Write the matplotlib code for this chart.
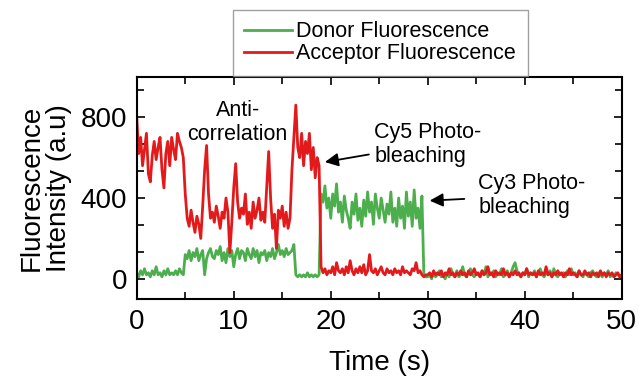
import numpy as np
import matplotlib.pyplot as plt
from matplotlib.ticker import MultipleLocator

plt.rcParams['font.family'] = ['Liberation Sans', 'DejaVu Sans']

# sampling interval of the traces (s)
dt = 0.2

# donor (green) trace, 5 samples per second
donor = [
    30, 10, 40, 20, 50,   20, 30, 10, 40, 20,   60, 20, 30, 10, 40,
    20, 50, 20, 30, 20,   40, 20, 50, 30, 20,   120, 100, 140, 90, 130,
    110, 150, 90, 120, 140,   20, 100, 130, 150, 110,   100, 140, 120, 160, 90,
    130, 80, 150, 110, 140,   60, 120, 150, 100, 140,   130, 90, 150, 120, 100,
    150, 110, 140, 80, 130,   120, 140, 90, 130, 110,   150, 100, 130, 170, 120,
    140, 110, 150, 120, 130,   140, 170, 20, 10, 20,   10, 20, 10, 30, 10,
    20, 10, 20, 10, 20,   420, 380, 460, 350, 400,   300, 420, 360, 470, 330,
    380, 280, 410, 340, 300,   250, 380, 320, 420, 290,   350, 260, 390, 310, 430,
    330, 380, 270, 420, 350,   300, 400, 340, 280, 370,   320, 430, 280, 350, 260,
    400, 300, 360, 250, 430,   310, 380, 260, 440, 300,   350, 250, 410, 20, 10,
    10, 20, 0, 30, 10,   20, 40, 10, 20, 0,   30, 10, 50, 20, 10,
    40, 10, 20, 60, 20,   10, 30, 50, 20, 10,   30, 20, 10, 40, 20,
    60, 10, 30, 20, 40,   10, 30, 20, 50, 10,   20, 40, 10, 30, 60,
    80, 40, 20, 10, 30,   20, 50, 10, 30, 20,   40, 10, 30, 50, 20,
    10, 30, 20, 40, 10,   50, 20, 10, 30, 20,   30, 10, 40, 20, 50,
    20, 30, 10, 40, 20,   10, 30, 20, 10, 30,   40, 20, 10, 30, 20,
    10, 30, 20, 40, 10,   20, 10, 30, 20, 10,   20,
]

# acceptor (red) trace, 5 samples per second
acceptor = [
    800, 620, 700, 560, 640,   720, 520, 480, 610, 680,   590, 650, 700, 540, 450,
    620, 680, 560, 700, 640,   590, 720, 680, 650, 600,   420, 300, 260, 340, 280,
    230, 310, 270, 200, 360,   540, 660, 420, 300, 330,   280, 360, 310, 250, 330,
    300, 400, 330, 130, 280,   450, 570, 380, 300, 350,   320, 420, 270, 330, 250,
    380, 300, 340, 400, 290,   330, 280, 460, 630, 400,   250, 320, 150, 340, 300,
    360, 260, 330, 250, 300,   540, 700, 860, 650, 600,   720, 560, 680, 620, 720,
    540, 650, 500, 600, 560,   60, 30, 50, 20, 40,   30, 60, 20, 80, 40,
    30, 50, 20, 60, 30,   90, 40, 20, 50, 30,   60, 30, 70, 20, 40,
    120, 40, 30, 50, 20,   40, 60, 30, 20, 50,   30, 40, 20, 50, 30,
    40, 20, 60, 30, 40,   30, 20, 50, 40, 80,   30, 40, 20, 10, 20,
    20, 30, 10, 40, 20,   30, 20, 40, 10, 30,   20, 50, 20, 30, 10,
    30, 20, 40, 20, 30,   10, 40, 20, 30, 50,   20, 30, 10, 40, 20,
    30, 60, 20, 30, 10,   40, 20, 30, 20, 50,   20, 30, 10, 30, 20,
    40, 20, 30, 10, 30,   20, 50, 20, 30, 20,   30, 10, 40, 20, 30,
    20, 60, 20, 30, 10,   30, 20, 40, 20, 30,   10, 30, 20, 50, 20,
    30, 20, 10, 40, 20,   20, 40, 20, 30, 10,   30, 20, 30, 10, 40,
    20, 30, 10, 30, 20,   30, 10, 20, 30, 10,   20,
]

time_d = np.arange(len(donor)) * dt
time_a = np.arange(len(acceptor)) * dt

green = '#4cae4c'
red = '#e31a1c'

fig = plt.figure(figsize=(6.39, 3.8), dpi=100)
ax = fig.add_axes([0.214, 0.213, 0.759, 0.585])

ax.plot(time_d, donor, color=green, lw=2.0, label='Donor Fluorescence')
ax.plot(time_a, acceptor, color=red, lw=2.0, label='Acceptor Fluorescence')

ax.set_xlim(0, 50)
ax.set_ylim(-100, 1000)
ax.set_xticks([0, 10, 20, 30, 40, 50])
ax.set_yticks([0, 400, 800])
ax.xaxis.set_minor_locator(MultipleLocator(5))
ax.yaxis.set_minor_locator(MultipleLocator(400 / 3))
ax.tick_params(which='both', direction='in', top=True, right=True,
               width=1.2, labelsize=20, pad=7)
ax.tick_params(which='major', length=6)
ax.tick_params(which='minor', length=5)
for sp in ax.spines.values():
    sp.set_linewidth(1.5)

ax.set_xlabel('Time (s)', fontsize=20, labelpad=11)
ax.set_ylabel('Fluorescence\nIntensity (a.u)', fontsize=20, labelpad=6,
              linespacing=1.05)

ax.text(10.4, 774, 'Anti-\ncorrelation', ha='center', va='center',
        fontsize=15.5, linespacing=1.2)
ax.annotate('Cy5 Photo-\nbleaching', xy=(19.4, 578), xytext=(24.5, 666),
            ha='left', va='center', fontsize=15.5, linespacing=1.2,
            arrowprops=dict(arrowstyle='-|>', color='black', lw=1.3,
                            mutation_scale=20, shrinkA=2, shrinkB=0))
ax.annotate('Cy3 Photo-\nbleaching', xy=(30.2, 387), xytext=(35.2, 412),
            ha='left', va='center', fontsize=15.5, linespacing=1.2,
            arrowprops=dict(arrowstyle='-|>', color='black', lw=1.3,
                            mutation_scale=20, shrinkA=8, shrinkB=0))

leg = fig.legend(loc='upper center', bbox_to_anchor=(0.595, 0.975),
                 fontsize=15.5, frameon=True, fancybox=False,
                 handlelength=2.2, handletextpad=0.2, borderpad=0.55,
                 labelspacing=0.05, borderaxespad=0)
leg.get_frame().set_edgecolor('#888888')
leg.get_frame().set_linewidth(1.0)

fig.savefig('out.png', dpi=100)
